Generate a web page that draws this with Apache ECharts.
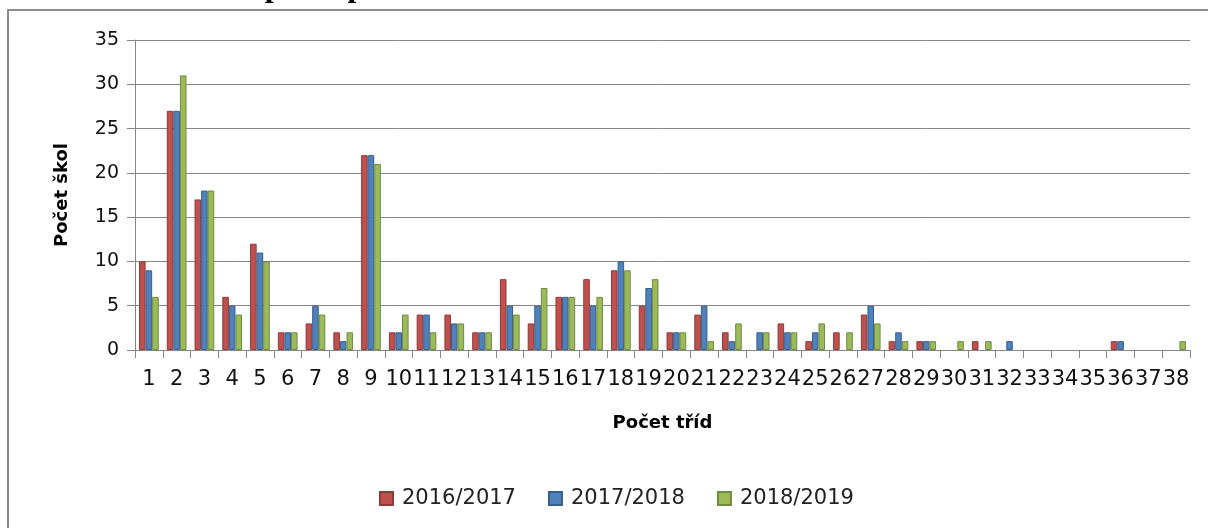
<!DOCTYPE html>
<html>
<head>
<meta charset="utf-8">
<script src="https://cdn.jsdelivr.net/npm/echarts@6/dist/echarts.min.js"></script>
<style>
html,body{margin:0;padding:0;background:#fff;}
#c{width:1208px;height:528px;}
</style>
</head>
<body>
<div id="c"></div>
<script>
var categories = ['1','2','3','4','5','6','7','8','9','10','11','12','13','14','15','16','17','18','19','20','21','22','23','24','25','26','27','28','29','30','31','32','33','34','35','36','37','38'];
var s2016 = [10,27,17,6,12,2,3,2,22,2,4,4,2,8,3,6,8,9,5,2,4,2,0,3,1,2,4,1,1,0,1,0,0,0,0,1,0,0];
var s2017 = [9,27,18,5,11,2,5,1,22,2,4,3,2,5,5,6,5,10,7,2,5,1,2,2,2,0,5,2,1,0,0,1,0,0,0,1,0,0];
var s2018 = [6,31,18,4,10,2,4,2,21,4,2,3,2,4,7,6,6,9,8,2,1,3,2,2,3,2,3,1,1,1,1,0,0,0,0,0,0,1];
var seriesNames = ['2016/2017','2017/2018','2018/2019'];
var yTicks = {min:0, max:35, interval:5};
var titleText = 'Počet škol podle počtu tříd';

var chart = echarts.init(document.getElementById('c'), null, {renderer:'canvas'});
var gray = '#878787';
function mk(name, data, fill, border){
  return {
    name:name, type:'bar',
    data:data.map(function(v){ return v === 0 ? {value:v, itemStyle:{borderWidth:0, opacity:0}} : v; }),
    barGap:'0%', barCategoryGap:'29%',
    itemStyle:{color:fill, borderColor:border, borderWidth:1},
    emphasis:{disabled:true}
  };
}
chart.setOption({
  animation:false,
  grid:{left:135, right:18, top:40, bottom:178, containLabel:false},
  graphic:[
    {type:'rect', shape:{x:8, y:10, width:1400, height:700}, style:{fill:null, stroke:'#8a8a8a', lineWidth:2}, silent:true},
    {type:'text', x:119, y:-28, style:{text:titleText, font:'bold 32px "Liberation Serif"', fill:'#000', textVerticalAlign:'top'}, silent:true}
  ],
  legend:{
    left:379, top:488, padding:0, itemWidth:13, itemHeight:13, itemGap:32, icon:'rect',
    textStyle:{fontFamily:'DejaVu Sans', fontSize:21, color:'#222', padding:[0,0,0,4]},
    data:seriesNames
  },
  xAxis:{
    type:'category', data:categories,
    name:'Počet tříd', nameLocation:'middle', nameGap:64,
    nameTextStyle:{fontFamily:'DejaVu Sans', fontWeight:'bold', fontSize:18, color:'#000'},
    axisLine:{lineStyle:{color:gray, width:1}},
    axisTick:{show:true, length:8, lineStyle:{color:gray}},
    axisLabel:{interval:0, fontFamily:'DejaVu Sans', fontSize:21, color:'#111', margin:19}
  },
  yAxis:{
    type:'value', min:yTicks.min, max:yTicks.max, interval:yTicks.interval,
    name:'Počet škol', nameLocation:'middle', nameGap:64, nameRotate:90,
    nameTextStyle:{fontFamily:'DejaVu Sans', fontWeight:'bold', fontSize:18, color:'#000'},
    axisLine:{show:true, lineStyle:{color:gray, width:1}},
    axisTick:{show:true, length:8, lineStyle:{color:gray}},
    axisLabel:{fontFamily:'DejaVu Sans', fontSize:19, color:'#111', margin:16},
    splitLine:{lineStyle:{color:gray, width:1}}
  },
  series:[
    mk(seriesNames[0], s2016, '#C0504D', '#8E3B39'),
    mk(seriesNames[1], s2017, '#4F81BD', '#385E8C'),
    mk(seriesNames[2], s2018, '#9BBB59', '#728A40')
  ]
});
</script>
</body>
</html>
